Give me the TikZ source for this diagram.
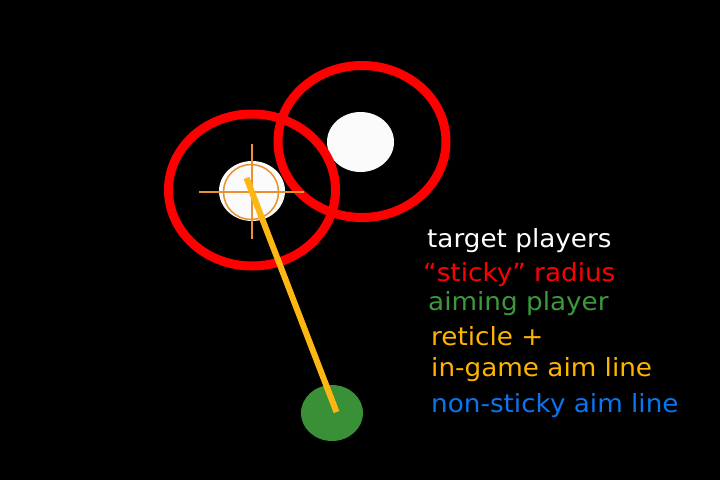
\documentclass[tikz,border=0pt]{standalone}
\usepackage{fontspec}
\usetikzlibrary{shapes.geometric}
\newfontfamily\labfont[FakeStretch=1.05]{DejaVu Sans}
\definecolor{ringred}{HTML}{FF0000}
\definecolor{ptwhite}{HTML}{FBFBFB}
\definecolor{aimgreen}{HTML}{3A9036}
\definecolor{txtgreen}{HTML}{3C9A3C}
\definecolor{reticle}{HTML}{E8912E}
\definecolor{aimyellow}{HTML}{FDB714}
\definecolor{txtyellow}{HTML}{FFB400}
\definecolor{txtblue}{HTML}{0A74F2}
\tikzset{
  ring/.style={draw=ringred, line width=9pt},
  player/.style={fill=ptwhite},
  legend/.style={anchor=base west, inner sep=0pt, font=\labfont\fontsize{25}{30}\selectfont},
}
\begin{document}
\begin{tikzpicture}[x=1pt,y=-1pt]
\fill[black] (0,0) rectangle (720,480);
\useasboundingbox (0,0) rectangle (720,480);
% target players
\fill[player] (252,191) ellipse [x radius=33, y radius=30];
\fill[player] (360.5,142) ellipse [x radius=33.5, y radius=30];
% sticky radii
\draw[ring] (252,190) ellipse [x radius=83.5, y radius=76];
\draw[ring] (362,141.5) ellipse [x radius=84, y radius=76];
% reticle
\draw[reticle, line width=1.5pt] (251,192) circle [radius=27.5];
\coordinate (hl) at (199,192);
\coordinate (hr) at (304,192);
\coordinate (vt) at (252,144);
\coordinate (vb) at (252,239);
\draw[reticle, line width=1.5pt] (hl) -- (hr);
\draw[reticle, line width=1.5pt] (vt) -- (vb);
% aiming player
\node[ellipse, fill=aimgreen, minimum width=62pt, minimum height=56pt, inner sep=0pt] (aimer) at (332,413) {};
% aim line
\coordinate (aimstart) at (246.5,178);
\coordinate (aimend) at (336.5,412);
\draw[aimyellow, line width=6pt] (aimstart) -- (aimend);
% legend
\node[legend, text=white] (l1) at (427,247) {target players};
\node[legend, text=ringred] (l2) at (423,281) {“sticky” radius};
\node[legend, text=txtgreen] (l3) at (428,310) {aiming player};
\node[legend, text=txtyellow] (l4) at (431,345) {reticle +};
\node[legend, text=txtyellow] (l5) at (431,376) {in-game aim line};
\node[legend, text=txtblue] (l6) at (431,412) {non-sticky aim line};
\end{tikzpicture}
\end{document}
